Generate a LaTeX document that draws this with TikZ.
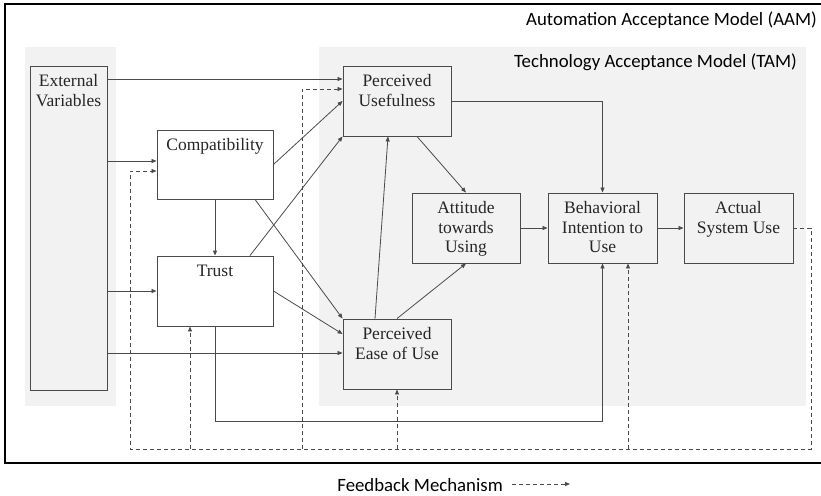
\documentclass[tikz,border=0pt]{standalone}
\usepackage{fontspec}
\setmainfont{Liberation Serif}
\newfontfamily\labelfont{Carlito}
\usetikzlibrary{arrows.meta,calc}

\definecolor{panel}{HTML}{F2F2F2}
\definecolor{edge}{HTML}{4A4A4A}

\tikzset{
  box/.style={draw=edge, line width=0.9pt, rectangle, inner sep=0pt},
  boxtext/.style={anchor=base, align=center, inner sep=0pt, text=black!85,
    font=\fontsize{17.5}{19.5}\selectfont},
  arr/.style={draw=edge, line width=0.8pt,
    -{Triangle[length=5pt,width=4pt]}},
  fb/.style={arr, dash pattern=on 4pt off 3pt},
  title/.style={font=\labelfont\fontsize{18.8}{20}\selectfont, inner sep=0pt}
}

\begin{document}
\begin{tikzpicture}[x=1pt, y=-1pt]
\useasboundingbox (0,0) rectangle (821,495);

% shaded panels
\fill[panel] (25,47) rectangle (116,406);
\fill[panel] (319,47) rectangle (806,406);

% outer frame of the AAM
\draw[line width=2pt] (822,4) -- (5,4) -- (5,463) -- (822,463);

\node[title, anchor=east] (aam) at (817,20) {Automation Acceptance Model (AAM)};
\node[title, anchor=east] (tam) at (797,62) {Technology Acceptance Model (TAM)};

% boxes
\node[box, minimum width=77pt,  minimum height=324pt] (ext)   at (68.5,228) {};
\node[box, fill=white, minimum width=116pt, minimum height=69pt] (comp)  at (215,164.5) {};
\node[box, fill=white, minimum width=116pt, minimum height=70pt] (trust) at (215,291) {};
\node[box, minimum width=108pt, minimum height=70pt] (pu)    at (397,101) {};
\node[box, minimum width=108pt, minimum height=70pt] (peou)  at (397,354) {};
\node[box, minimum width=108pt, minimum height=70pt] (atu)   at (466,228) {};
\node[box, minimum width=109pt, minimum height=70pt] (bi)    at (602.5,228) {};
\node[box, minimum width=109pt, minimum height=70pt] (asu)   at (738.5,228) {};

% box captions: first baseline 21pt below the top edge, lines 19.5pt apart;
% the base anchor of a multi-line node sits on its last line
\node[boxtext] (extT)   at ($(ext.north)+(0,40.5)$)   {External\\Variables};
\node[boxtext] (compT)  at ($(comp.north)+(0,21)$)    {Compatibility};
\node[boxtext] (trustT) at ($(trust.north)+(0,21)$)   {Trust};
\node[boxtext] (puT)    at ($(pu.north)+(0,40.5)$)    {Perceived\\Usefulness};
\node[boxtext] (peouT)  at ($(peou.north)+(0,40.5)$)  {Perceived\\Ease of Use};
\node[boxtext] (atuT)   at ($(atu.north)+(0,60)$)     {Attitude\\towards\\Using};
\node[boxtext] (biT)    at ($(bi.north)+(0,60)$)      {Behavioral\\Intention to\\Use};
\node[boxtext] (asuT)   at ($(asu.north)+(0,40.5)$)   {Actual\\System Use};

% external variables
\draw[arr] (ext.east |- 0,79)  -- (pu.west |- 0,79);
\draw[arr] (ext.east |- 0,161) -- (comp.west |- 0,161);
\draw[arr] (ext.east |- 0,291) -- (trust.west);
\draw[arr] (ext.east |- 0,353) -- (peou.west |- 0,353);

% compatibility and trust
\draw[arr] (comp.east) -- (pu.west);
\draw[arr] ($(comp.south)+(40,0)$) -- (peou.north west);
\draw[arr] (comp.south) -- (trust.north);
\draw[arr] ($(trust.north)+(35,0)$) -- (pu.south west);
\draw[arr] (trust.east) -- ($(peou.west)+(0,-20)$);
\draw[arr] (trust.south) -- (trust.south |- 0,421) -- (bi.south |- 0,421) -- (bi.south);

% TAM core
\draw[arr] (pu.east) -| (bi.north);
\draw[arr] ($(pu.south)+(20,0)$) -- (atu.north);
\draw[arr] (peou.north) -- (atu.south);
\draw[arr] ($(peou.north)+(-22,0)$) -- ($(pu.south)+(-9,0)$);
\draw[arr] (atu.east) -- (bi.west);
\draw[arr] (bi.east) -- (asu.west);

% feedback loop
\coordinate (fbR) at (811,449);
\coordinate (fbL) at (130,449);
\coordinate (fbTrust) at (190,449);
\coordinate (fbPU) at (302,449);
\coordinate (fbBI) at (628,449);
\draw[fb] (asu.east) -- (fbR |- asu.east) -- (fbR) -- (fbL) -- (fbL |- 0,171) -- (comp.west |- 0,171);
\draw[fb] (fbPU) -- (fbPU |- 0,89) -- (pu.west |- 0,89);
\draw[fb] (fbTrust) -- (fbTrust |- trust.south);
\draw[fb] (peou.south |- fbL) -- (peou.south);
\draw[fb] (fbBI) -- (fbBI |- bi.south);

% legend
\node[title, anchor=base east] (legend) at (503,491) {Feedback Mechanism};
\coordinate (legA) at (512,484);
\coordinate (legB) at (570,484);
\draw[fb] (legA) -- (legB);
\end{tikzpicture}
\end{document}
